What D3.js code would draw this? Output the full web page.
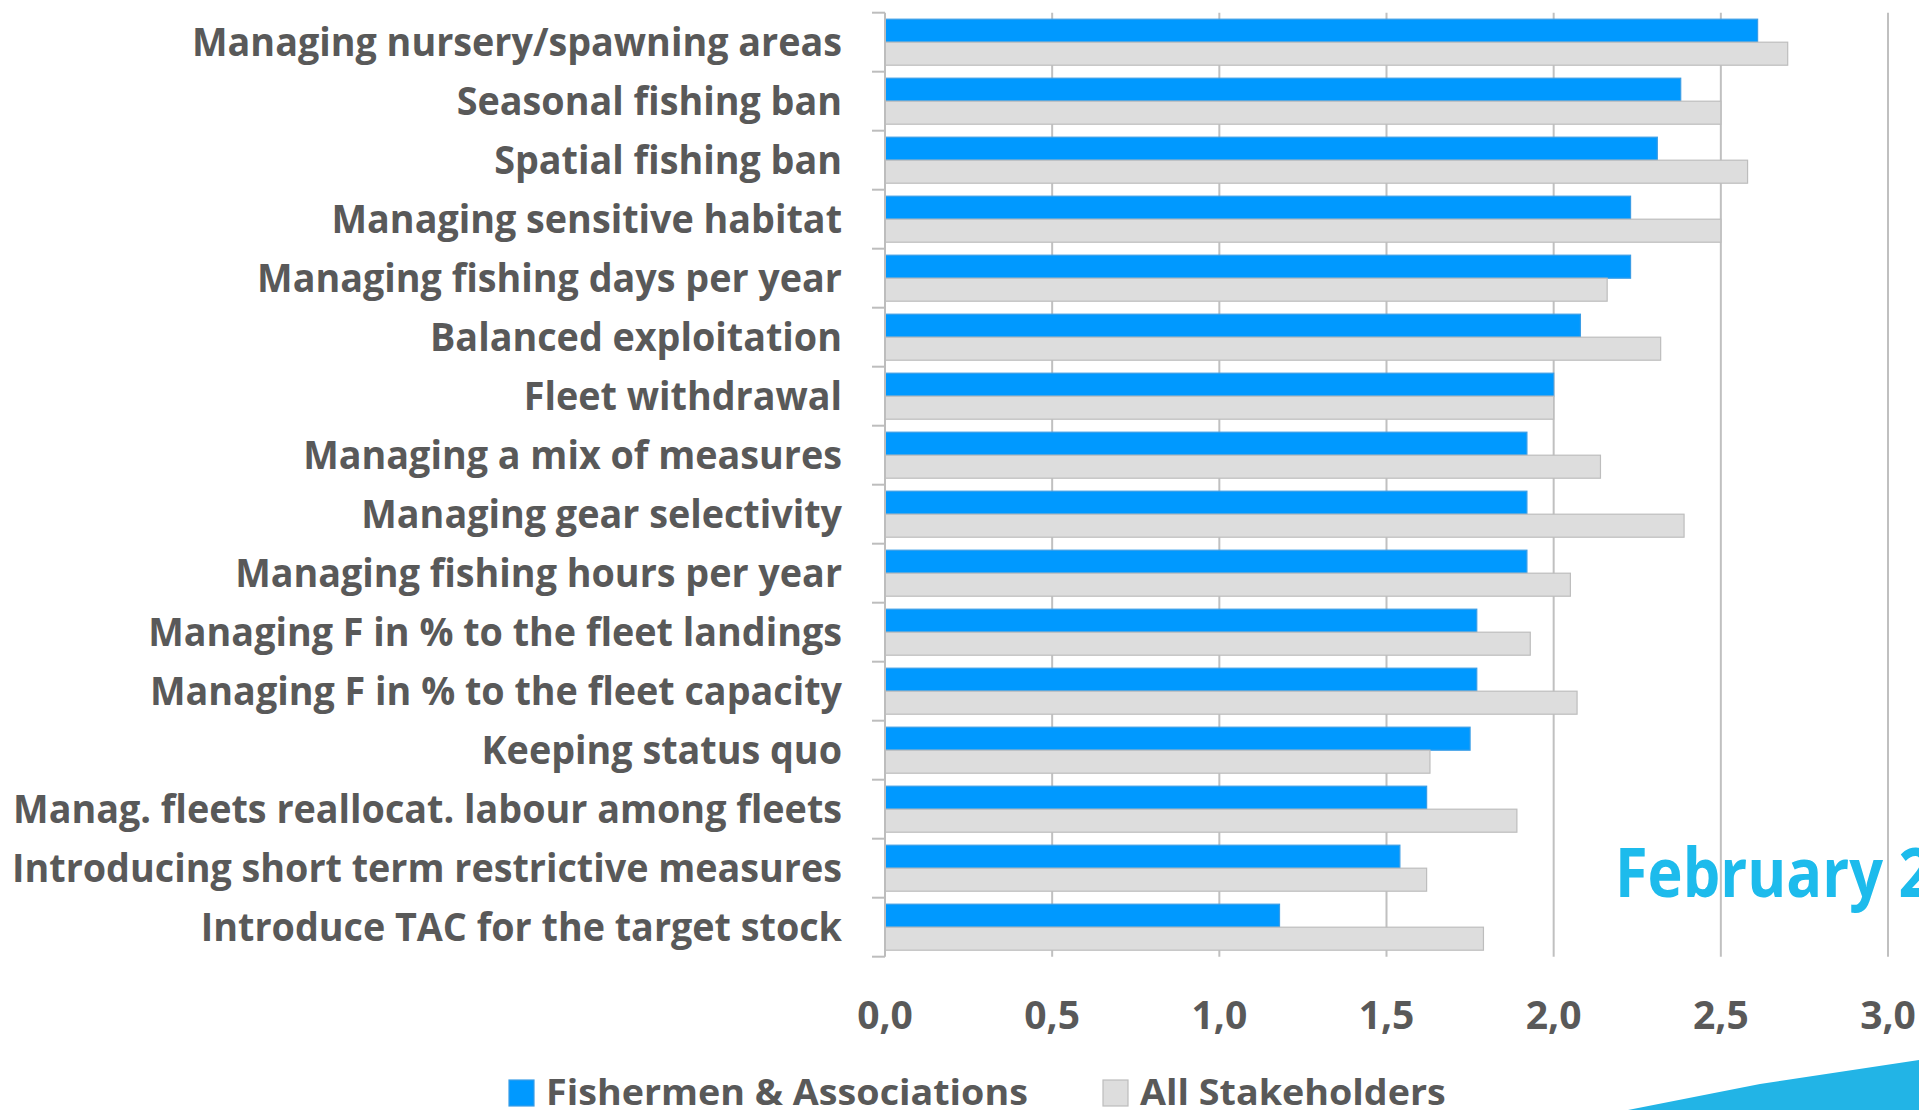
<!DOCTYPE html>
<html>
<head>
<meta charset="utf-8">
<script src="https://cdn.jsdelivr.net/npm/d3@7"></script>
<style>
  body { margin: 0; background: #fff; }
  svg { display: block; font-family: "Open Sans", sans-serif; }
</style>
</head>
<body>
<svg id="chart" width="1919" height="1110"></svg>
<script>
var categories = [
  "Managing nursery/spawning areas",
  "Seasonal fishing ban",
  "Spatial fishing ban",
  "Managing sensitive habitat",
  "Managing fishing days per year",
  "Balanced exploitation",
  "Fleet withdrawal",
  "Managing a mix of measures ",
  "Managing gear selectivity",
  "Managing fishing hours per year",
  "Managing F in % to the fleet landings",
  "Managing F in % to the fleet capacity",
  "Keeping status quo",
  "Manag. fleets reallocat. labour among fleets",
  "Introducing short term restrictive measures",
  "Introduce TAC for the target stock"
];
var fishermen = [2.61, 2.38, 2.31, 2.23, 2.23, 2.08, 2.00, 1.92, 1.92, 1.92, 1.77, 1.77, 1.75, 1.62, 1.54, 1.18];
var allStakeholders = [2.70, 2.50, 2.58, 2.50, 2.16, 2.32, 2.00, 2.14, 2.39, 2.05, 1.93, 2.07, 1.63, 1.89, 1.62, 1.79];
var seriesNames = ["Fishermen & Associations", "All Stakeholders"];
var xTicks = [0, 0.5, 1, 1.5, 2, 2.5, 3];
var stamp = "February 2";

var colors = { fill: ["#0099ff", "#dddddd"], stroke: ["#3a9de6", "#bdbdbd"] };
var textColor = "#595959";

var svg = d3.select("#chart");

var plotTop = 12.7, plotBottom = 956.7;
var x = d3.scaleLinear().domain([0, 3]).range([885, 1888]);
var y0 = d3.scaleBand().domain(categories).range([plotTop, plotBottom]).paddingInner(0.22).paddingOuter(0.11);
var y1 = d3.scaleBand().domain(seriesNames).range([0, y0.bandwidth()]);

var rows = categories.map(function(c, i) {
  return { cat: c, values: [fishermen[i], allStakeholders[i]] };
});

// gridlines
svg.append("g").selectAll("line")
  .data(xTicks.filter(function(t) { return t > 0; }))
  .join("line")
    .attr("x1", function(d) { return x(d); })
    .attr("x2", function(d) { return x(d); })
    .attr("y1", plotTop).attr("y2", plotBottom)
    .attr("stroke", "#c0c0c0").attr("stroke-width", 2);

// bars
var groups = svg.append("g").selectAll("g")
  .data(rows)
  .join("g")
    .attr("transform", function(d) { return "translate(0," + y0(d.cat) + ")"; });

groups.selectAll("rect")
  .data(function(d) { return d.values.map(function(v, j) { return { key: seriesNames[j], value: v, j: j }; }); })
  .join("rect")
    .attr("x", x(0))
    .attr("y", function(d) { return y1(d.key); })
    .attr("width", function(d) { return x(d.value) - x(0); })
    .attr("height", y1.bandwidth())
    .attr("fill", function(d) { return colors.fill[d.j]; })
    .attr("stroke", function(d) { return colors.stroke[d.j]; })
    .attr("stroke-width", 1.2);

// category axis line + ticks
var axisG = svg.append("g");
axisG.append("line")
  .attr("x1", x(0)).attr("x2", x(0))
  .attr("y1", plotTop).attr("y2", plotBottom)
  .attr("stroke", "#bdbdbd").attr("stroke-width", 2);
var step = y0.step();
axisG.selectAll("line.tick")
  .data(d3.range(categories.length + 1))
  .join("line")
    .attr("class", "tick")
    .attr("x1", x(0) - 13).attr("x2", x(0))
    .attr("y1", function(i) { return plotTop + i * step; })
    .attr("y2", function(i) { return plotTop + i * step; })
    .attr("stroke", "#bdbdbd").attr("stroke-width", 2);

// category labels, squeezed to a narrow face
var labels = svg.append("g").selectAll("text")
  .data(categories)
  .join("text")
    .attr("text-anchor", "end")
    .attr("dy", "0.36em")
    .attr("font-size", 39)
    .attr("font-weight", 700)
    .attr("fill", textColor)
    .text(function(d) { return d.trim(); });

var natural = labels.nodes()[0].getComputedTextLength();
var sx = 650 / natural;
labels.attr("transform", function(d) {
  return "translate(842," + (y0(d) + y0.bandwidth() / 2) + ") scale(" + sx + ",1)";
});

// value tick labels
var fmt = d3.format(".1f");
svg.append("g").selectAll("text")
  .data(xTicks)
  .join("text")
    .attr("text-anchor", "middle")
    .attr("font-size", 39)
    .attr("font-weight", 700)
    .attr("fill", textColor)
    .attr("transform", function(d) { return "translate(" + x(d) + ",1029) scale(" + Math.min(1, sx * 1.1) + ",1)"; })
    .text(function(d) { return fmt(d).replace(".", ","); });

// legend
var legendX = [509, 1103];
var legend = svg.append("g").selectAll("g")
  .data(seriesNames)
  .join("g")
    .attr("transform", function(d, i) { return "translate(" + legendX[i] + ",1080)"; });
legend.append("rect")
  .attr("width", 25).attr("height", 26)
  .attr("fill", function(d, i) { return colors.fill[i]; })
  .attr("stroke", function(d, i) { return colors.stroke[i]; })
  .attr("stroke-width", 1.2);
var legendText = legend.append("text")
  .attr("font-size", 35)
  .attr("font-weight", 700)
  .attr("fill", textColor)
  .text(function(d) { return d; });
var lsx = 482 / legendText.nodes()[0].getComputedTextLength();
legendText.attr("transform", "translate(37,25) scale(" + lsx + ",1)");

// date stamp and corner swoosh
var stampText = svg.append("text")
  .attr("font-size", 68)
  .attr("font-weight", 700)
  .attr("fill", "#1dbbec")
  .text(stamp);
var ssx = 268 / stampText.node().getSubStringLength(0, 8);
stampText.attr("transform", "translate(1615,897) scale(" + ssx + ",1)");

svg.append("path")
  .attr("d", "M1628,1110 L1760,1084 L1919,1060 L1919,1110 Z")
  .attr("fill", "#22b4e6");
</script>
</body>
</html>
